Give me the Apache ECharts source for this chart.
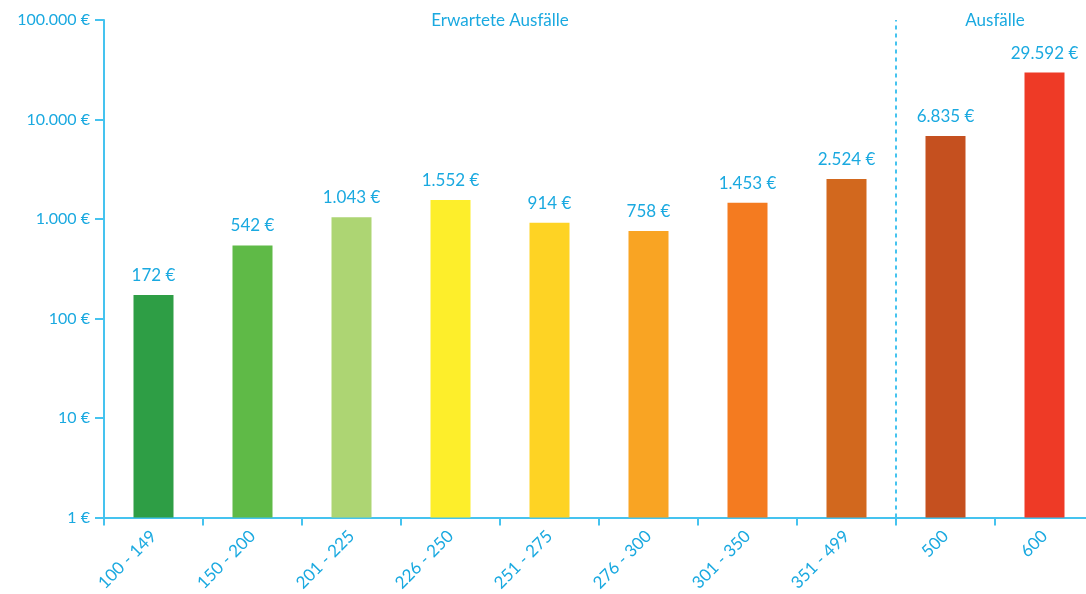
<!DOCTYPE html>
<html>
<head>
<meta charset="utf-8">
<script src="https://cdn.jsdelivr.net/npm/echarts@6/dist/echarts.min.js"></script>
<style>
  html, body { margin: 0; padding: 0; background: #fff; overflow: hidden; }
  #chart { width: 1100px; height: 594px; }
</style>
</head>
<body>
<div id="chart"></div>
<script>
  // categories and values (EUR, log scale)
  var categories = ['100 - 149', '150 - 200', '201 - 225', '226 - 250', '251 - 275',
    '276 - 300', '301 - 350', '351 - 499', '500', '600']
  var values = [172, 542, 1043, 1552, 914, 758, 1453, 2524, 6835, 29592]
  var barColors = ['#2e9e45', '#5fba47', '#add573', '#fdee2b', '#fed324',
    '#f9a423', '#f47b20', '#d2681e', '#c5501f', '#ee3a26']
  var groupLabels = ['Erwartete Ausfälle', 'Ausfälle']
  var groupCenters = [4, 9] // in category units on the helper axis
  var splitAt = 8

  var axisColor = '#45c3ef'
  var textColor = '#1aa9e0'
  var font = 'Lato, "Open Sans", sans-serif'

  function fmt (v) {
    return String(Math.round(v)).replace(/\B(?=(\d{3})+(?!\d))/g, '.') + ' €'
  }

  var chart = echarts.init(document.getElementById('chart'))
  chart.setOption({
    backgroundColor: '#fff',
    animation: false,
    grid: { left: 104, top: 20, width: 990, height: 498 },
    xAxis: [{
      type: 'category',
      data: categories,
      axisLine: { lineStyle: { color: axisColor, width: 2 } },
      axisTick: { show: true, length: 8, lineStyle: { color: axisColor, width: 2 } },
      axisLabel: { rotate: 45, color: textColor, fontSize: 17, fontFamily: font, margin: 16 }
    }, {
      type: 'value',
      min: 0,
      max: 10,
      show: false
    }],
    yAxis: {
      type: 'log',
      logBase: 10,
      min: 1,
      max: 100000,
      axisLine: { show: true, lineStyle: { color: axisColor, width: 2 } },
      axisTick: { show: true, length: 9, lineStyle: { color: axisColor, width: 2 } },
      splitLine: { show: false },
      axisLabel: {
        color: textColor, fontSize: 16, fontFamily: font, margin: 14,
        formatter: function (v) { return fmt(v) }
      }
    },
    series: [{
      type: 'bar',
      barWidth: 40,
      data: values.map(function (v, i) {
        return { value: v, itemStyle: { color: barColors[i] } }
      }),
      label: {
        show: true,
        position: 'top',
        distance: 11,
        color: textColor,
        fontSize: 17,
        fontFamily: font,
        formatter: function (p) { return fmt(p.value) }
      }
    }, {
      type: 'line',
      xAxisIndex: 1,
      data: [],
      markLine: {
        symbol: 'none',
        silent: true,
        label: { show: false },
        lineStyle: { color: axisColor, type: [4, 4], width: 2 },
        data: [{ xAxis: splitAt }]
      }
    }]
  })

  var graphics = groupLabels.map(function (t, i) {
    var pt = chart.convertToPixel({ xAxisIndex: 1 }, groupCenters[i])
    return {
      type: 'text',
      x: pt,
      y: 21,
      style: {
        text: t,
        fill: textColor,
        font: '17px ' + font,
        textAlign: 'center',
        textVerticalAlign: 'middle'
      }
    }
  })
  chart.setOption({ graphic: graphics })
</script>
</body>
</html>
